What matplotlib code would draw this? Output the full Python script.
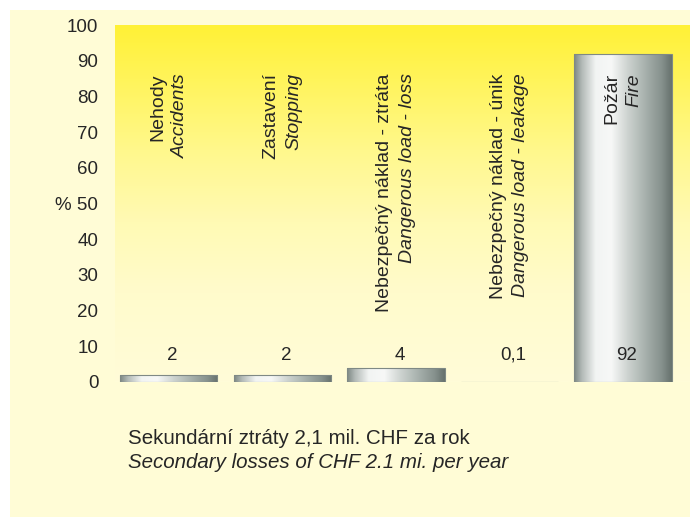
import matplotlib
matplotlib.use("Agg")
import matplotlib.pyplot as plt
import numpy as np
from matplotlib.patches import Rectangle
from matplotlib.colors import LinearSegmentedColormap

names_cz = ["Nehody", "Zastavení", "Nebezpečný náklad - ztráta",
            "Nebezpečný náklad - únik", "Požár"]
names_en = ["Accidents", "Stopping", "Dangerous load - loss",
            "Dangerous load - leakage", "Fire"]
shares = [2, 2, 4, 0.1, 92]
share_labels = ["2", "2", "4", "0,1", "92"]
yticks = [0, 10, 20, 30, 40, 50, 60, 70, 80, 90, 100]
ytick_labels = ["0", "10", "20", "30", "40", "% 50", "60", "70", "80", "90", "100"]
caption_cz = "Sekundární ztráty 2,1 mil. CHF za rok"
caption_en = "Secondary losses of CHF 2.1 mi. per year"

plt.rcParams["font.family"] = ["Liberation Sans", "DejaVu Sans"]
text_color = "#262626"

W, H = 691, 519
fig = plt.figure(figsize=(W / 100, H / 100), dpi=100, facecolor="white")

# pale yellow sheet behind everything
fig.patches.append(Rectangle((10 / W, 2 / H), 680 / W, 507 / H,
                             transform=fig.transFigure, facecolor="#fffcd6",
                             edgecolor="none", zorder=-5))

ax = fig.add_axes([115 / W, (H - 382) / H, 575 / W, 357 / H])
ax.set_zorder(1)
ax.patch.set_alpha(0)

# yellow wash, strong at the top and fading downwards
wash = LinearSegmentedColormap.from_list("wash", [
    (0.0, "#fffcd8"), (0.25, "#fffbcc"), (0.45, "#fffab4"), (0.65, "#fff88c"),
    (0.85, "#fff45a"), (1.0, "#fff136")])
ax.imshow(np.linspace(0, 1, 256).reshape(-1, 1), cmap=wash, origin="lower",
          extent=(0, 1, 0, 1), transform=ax.transAxes, aspect="auto", zorder=0)

# metal cylinder shading across each bar
steel = LinearSegmentedColormap.from_list("steel", [
    (0.0, "#7d8783"), (0.08, "#b3bab7"), (0.22, "#f2f4f3"), (0.38, "#f7f8f7"),
    (0.55, "#cdd3d0"), (0.75, "#a3ada9"), (0.9, "#85908c"), (1.0, "#66716d")])

x = np.arange(len(shares))
width = 0.855
bars = ax.bar(x, shares, width=width, color="none", edgecolor="#7f8985",
              linewidth=0.8, zorder=2)
for bar in bars:
    x0 = bar.get_x()
    img = ax.imshow(np.linspace(0, 1, 256).reshape(1, -1), cmap=steel,
                    extent=(x0, x0 + bar.get_width(), 0, bar.get_height()),
                    aspect="auto", zorder=1.9)
    img.set_clip_path(bar)

for i in x:
    ax.text(i - 0.1, 86.5, names_cz[i], rotation=90, va="top", ha="center",
            fontsize=14, color=text_color, zorder=3)
    ax.text(i + 0.1, 86.5, names_en[i], rotation=90, va="top", ha="center",
            fontsize=14, style="italic", color=text_color, zorder=3)
    ax.text(i + 0.03, 7.5, share_labels[i], ha="center", va="center",
            fontsize=13.5, color=text_color, zorder=3)

ax.set_xlim(-0.475, 4.59)
ax.set_ylim(0, 100)
ax.set_yticks(yticks)
ax.set_yticklabels(ytick_labels, fontsize=13.5, color=text_color)
ax.set_xticks([])
ax.tick_params(axis="y", length=0, pad=12)
for s in ax.spines.values():
    s.set_visible(False)

fig.text(128 / W, 1 - 438 / H, caption_cz, fontsize=14.8, color=text_color,
         va="center", ha="left")
fig.text(128 / W, 1 - 463 / H, caption_en, fontsize=14.8, color=text_color,
         style="italic", va="center", ha="left")

fig.savefig("out.png", dpi=100, facecolor="white")
